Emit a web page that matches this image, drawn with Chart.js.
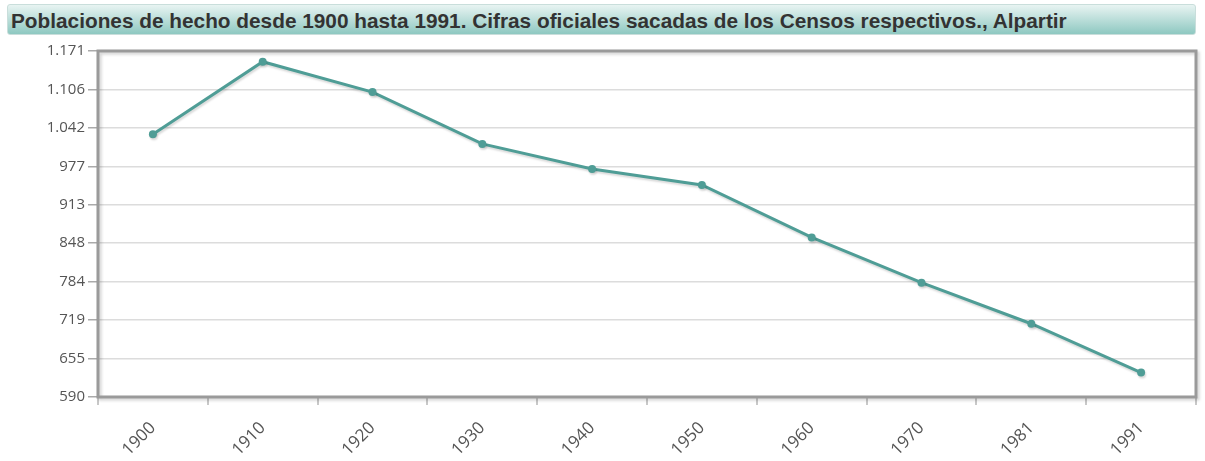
<!DOCTYPE html>
<html>
<head>
<meta charset="utf-8">
<script src="https://cdn.jsdelivr.net/npm/chart.js@4"></script>
<style>
  html, body { margin: 0; padding: 0; background: #fff; }
  #wrap { position: relative; width: 1205px; height: 461px; }
  #titulo {
    position: absolute; left: 7px; top: 4px; width: 1189px; height: 31px;
    background: linear-gradient(#e8f4f2, #8ec8c1);
    border: 1px solid #c9dedb; border-radius: 3px;
    font: bold 20.8px "Liberation Sans", Arial, sans-serif; color: #333;
    line-height: 31px; padding-left: 3px; box-sizing: border-box; white-space: nowrap;
  }
  canvas { position: absolute; left: 0; top: 0; }
</style>
</head>
<body>
<div id="wrap">
  <div id="titulo">Poblaciones de hecho desde 1900 hasta 1991. Cifras oficiales sacadas de los Censos respectivos., Alpartir</div>
  <canvas id="grafico" width="1205" height="461"></canvas>
</div>
<script>
  var anios = ["1900", "1910", "1920", "1930", "1940", "1950", "1960", "1970", "1981", "1991"];
  var poblacion = [1031, 1153, 1102, 1015, 973, 946, 858, 782, 713, 631];
  var yMin = 590;
  var yMax = 1171;
  var yEtiquetas = ["590", "655", "719", "784", "848", "913", "977", "1.042", "1.106", "1.171"];

  var colorLinea = "#4f9d96";

  // marco gris con sombra alrededor del area del grafico
  var marco = {
    id: "marco",
    beforeDatasetsDraw: function (chart) {
      var a = chart.chartArea;
      var ctx = chart.ctx;
      ctx.save();
      ctx.shadowColor = "rgba(0,0,0,0.18)";
      ctx.shadowOffsetX = 2;
      ctx.shadowOffsetY = 2;
      ctx.shadowBlur = 3;
      ctx.strokeStyle = "#9a9a9a";
      ctx.lineWidth = 3;
      ctx.strokeRect(a.left, a.top, a.right - a.left, a.bottom - a.top);
      ctx.restore();
    },
    beforeDatasetDraw: function (chart) {
      var ctx = chart.ctx;
      ctx.save();
      ctx.shadowColor = "rgba(0,0,0,0.15)";
      ctx.shadowOffsetX = 1;
      ctx.shadowOffsetY = 2;
      ctx.shadowBlur = 2;
    },
    afterDatasetDraw: function (chart) {
      chart.ctx.restore();
    }
  };

  var ctx = document.getElementById("grafico").getContext("2d");
  var chart = new Chart(ctx, {
    type: "line",
    data: {
      labels: anios,
      datasets: [
        {
          data: poblacion,
          borderColor: colorLinea,
          backgroundColor: colorLinea,
          borderWidth: 3,
          pointRadius: 4,
          pointBorderWidth: 0,
          tension: 0,
        },
      ],
    },
    plugins: [marco],
    options: {
      responsive: false,
      animation: false,
      layout: { padding: { left: 0, top: 51, right: 9, bottom: 0 } },
      plugins: { legend: { display: false }, tooltip: { enabled: false } },
      scales: {
        x: {
          offset: true,
          border: { display: false },
          grid: {
            offset: true,
            drawOnChartArea: false,
            drawTicks: true,
            tickLength: 8,
            tickColor: "#c8c8c8",
            lineWidth: 2,
          },
          ticks: {
            minRotation: 45,
            maxRotation: 45,
            color: "#555",
            font: { family: "'Open Sans'", size: 17 },
            padding: 13,
          },
          afterFit: function (s) { s.height = 64; },
        },
        y: {
          min: yMin,
          max: yMax,
          border: { display: false },
          grid: {
            color: "#dcdcdc",
            lineWidth: 1.5,
            tickLength: 10,
            tickColor: "#aaa",
          },
          ticks: {
            color: "#555",
            font: { family: "'Open Sans'", size: 15 },
            padding: 3,
            callback: function (v, i) { return yEtiquetas[i]; },
          },
          afterBuildTicks: function (s) {
            var n = yEtiquetas.length - 1;
            s.ticks = yEtiquetas.map(function (_, i) {
              return { value: yMin + (yMax - yMin) * i / n };
            });
          },
          afterFit: function (s) { s.width = 98; },
        },
      },
    },
  });
</script>
</body>
</html>
